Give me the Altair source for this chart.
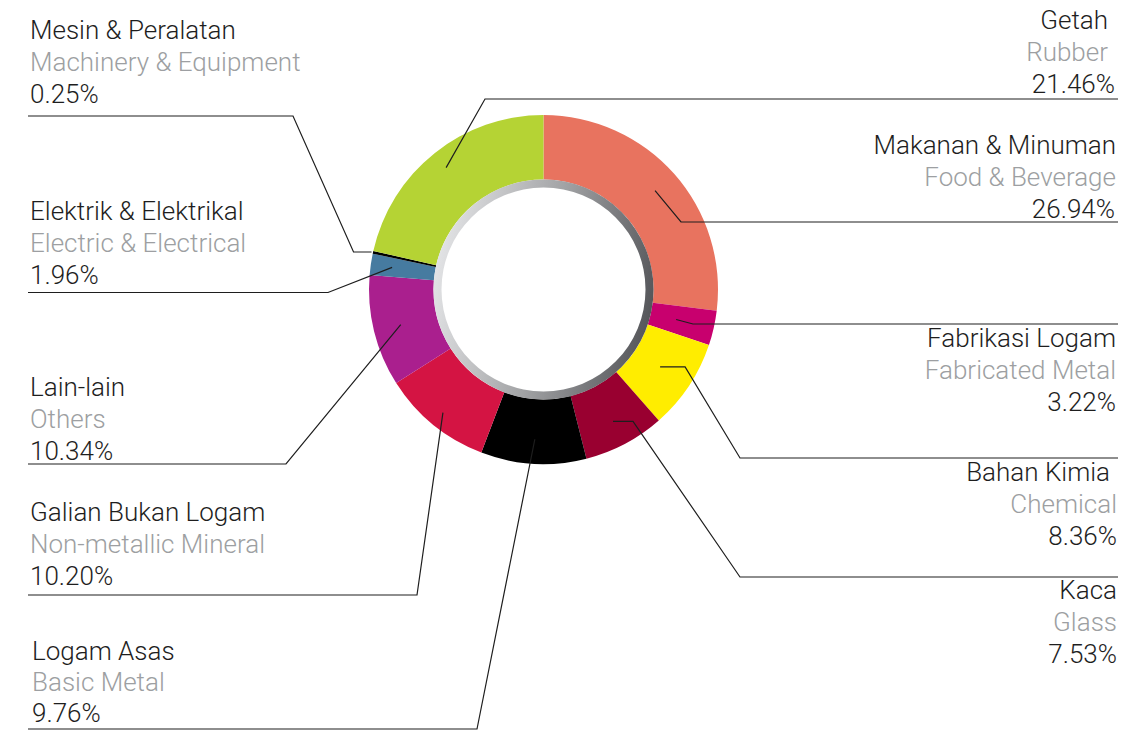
import math
import altair as alt
import pandas as pd

# ---- data ----
names_ms = ["Makanan & Minuman", "Fabrikasi Logam", "Bahan Kimia", "Kaca", "Logam Asas",
            "Galian Bukan Logam", "Lain-lain", "Elektrik & Elektrikal", "Mesin & Peralatan", "Getah"]
names_en = ["Food & Beverage", "Fabricated Metal", "Chemical", "Glass", "Basic Metal",
            "Non-metallic Mineral", "Others", "Electric & Electrical", "Machinery & Equipment", "Rubber"]
shares = [26.94, 3.22, 8.36, 7.53, 9.76, 10.20, 10.34, 1.96, 0.25, 21.46]
pct_labels = ["26.94%", "3.22%", "8.36%", "7.53%", "9.76%", "10.20%", "10.34%", "1.96%", "0.25%", "21.46%"]
colors = ["#E8735F", "#C8006E", "#FFED00", "#990030", "#000000",
          "#D41443", "#AA1F8E", "#467BA0", "#000000", "#B5D334"]

# ---- layout (page pixel positions of the labels / leader lines) ----
side = ["R", "R", "R", "R", "L", "L", "L", "L", "L", "R"]
name_base = [154, 347, 481, 599, 660, 521, 396, 220, 39, 29]
line_gap = [32, 32, 32, 32, 31, 32, 32, 32, 32, 32]
line_y = [222, 324, 458, 577, 729, 595, 464, 292.5, 116, 99]
elbow_x = [681, 693, 740, 740, 477, 417, 286, 328, 293, 485]
anchor_r = [149, 136, 140, 149, 150, 159, 147, 153, 176, 156]
stub_dx = [0, 0, 25, 20, 0, 0, 0, 0, -18, 0]
name_x = [1116, 1116, 1110, 1117, 32, 30, 30, 30, 30, 1108]
en_x = [1116, 1116, 1117, 1117, 32, 30, 30, 30, 30, 1108]
pct_x = [1115, 1116, 1117, 1117, 32, 30, 30, 30, 30, 1115]

W, H = 1124, 723
OFF = 8
CX, CY = 543.5 - OFF, 289.5 - OFF
R_OUT, R_IN, R_HOLE = 174.5, 110, 102
BLACK = "#1e1e1e"
GREY = "#9d9fa2"

# leader lines, anchored at each slice's mid angle
total = sum(shares)
cum = 0.0
line_rows = []
for i in range(len(shares)):
    mid = (cum + shares[i] / 2) / total * 2 * math.pi
    cum += shares[i]
    ax = CX + anchor_r[i] * math.sin(mid)
    ay = CY - anchor_r[i] * math.cos(mid)
    pts = [(ax, ay)]
    if stub_dx[i]:
        pts.append((ax + stub_dx[i], ay))
    ly = line_y[i] - OFF
    pts.append((elbow_x[i] - OFF, ly))
    pts.append(((1118 if side[i] == "R" else 28) - OFF, ly))
    for k, (px, py) in enumerate(pts):
        line_rows.append({"id": i, "k": k, "x": px, "y": py})
line_df = pd.DataFrame(line_rows)

text_rows = []
for i in range(len(shares)):
    b = name_base[i] - OFF
    g = line_gap[i]
    text_rows.append({"t": names_ms[i], "x": name_x[i] - OFF, "y": b, "tone": BLACK, "side": side[i]})
    text_rows.append({"t": names_en[i], "x": en_x[i] - OFF, "y": b + g, "tone": GREY, "side": side[i]})
    text_rows.append({"t": pct_labels[i], "x": pct_x[i] - OFF, "y": b + 2 * g, "tone": BLACK, "side": side[i]})
text_df = pd.DataFrame(text_rows)

pie_df = pd.DataFrame({"name": names_ms, "share": shares, "idx": list(range(len(shares)))})

xs = alt.Scale(domain=[0, W], range=[0, W], nice=False, zero=False)
ys = alt.Scale(domain=[0, H], range=[0, H], nice=False, zero=False)

arc = alt.Chart(pie_df).mark_arc(radius=R_OUT, radius2=R_IN, strokeWidth=0).encode(
    theta=alt.Theta("share:Q", stack=True),
    order=alt.Order("idx:Q"),
    color=alt.Color("name:N", scale=alt.Scale(domain=names_ms, range=colors), legend=None),
    x=alt.value(CX),
    y=alt.value(CY),
)

ring = alt.Chart(pd.DataFrame({"k": [0]})).mark_arc(
    radius=R_IN, radius2=R_HOLE, theta=0, theta2=2 * math.pi,
    color=alt.LinearGradient(
        gradient="linear",
        stops=[alt.GradientStop(color="#e3e4e6", offset=0),
               alt.GradientStop(color="#a2a3a5", offset=0.5),
               alt.GradientStop(color="#545559", offset=1)],
        x1=0, x2=1, y1=0.4, y2=0.6),
).encode(x=alt.value(CX), y=alt.value(CY))

lines = alt.Chart(line_df).mark_line(color=BLACK, strokeWidth=1.2).encode(
    x=alt.X("x:Q", scale=xs, axis=None),
    y=alt.Y("y:Q", scale=ys, axis=None),
    detail="id:N",
    order="k:Q",
)

def text_layer(s, align):
    return alt.Chart(text_df).transform_filter(alt.datum.side == s).mark_text(
        align=align, baseline="alphabetic", font="Roboto", fontWeight=300, fontSize=26,
    ).encode(
        x=alt.X("x:Q", scale=xs, axis=None),
        y=alt.Y("y:Q", scale=ys, axis=None),
        text="t:N",
        fill=alt.Fill("tone:N", scale=None),
    )

chart = alt.layer(arc, ring, lines, text_layer("L", "left"), text_layer("R", "right")).properties(
    width=W, height=H, padding=0, autosize=alt.AutoSizeParams(type="none"),
    background="white",
).configure_view(stroke=None)

chart.save("out.html", embed_options={"renderer": "svg", "actions": False})
